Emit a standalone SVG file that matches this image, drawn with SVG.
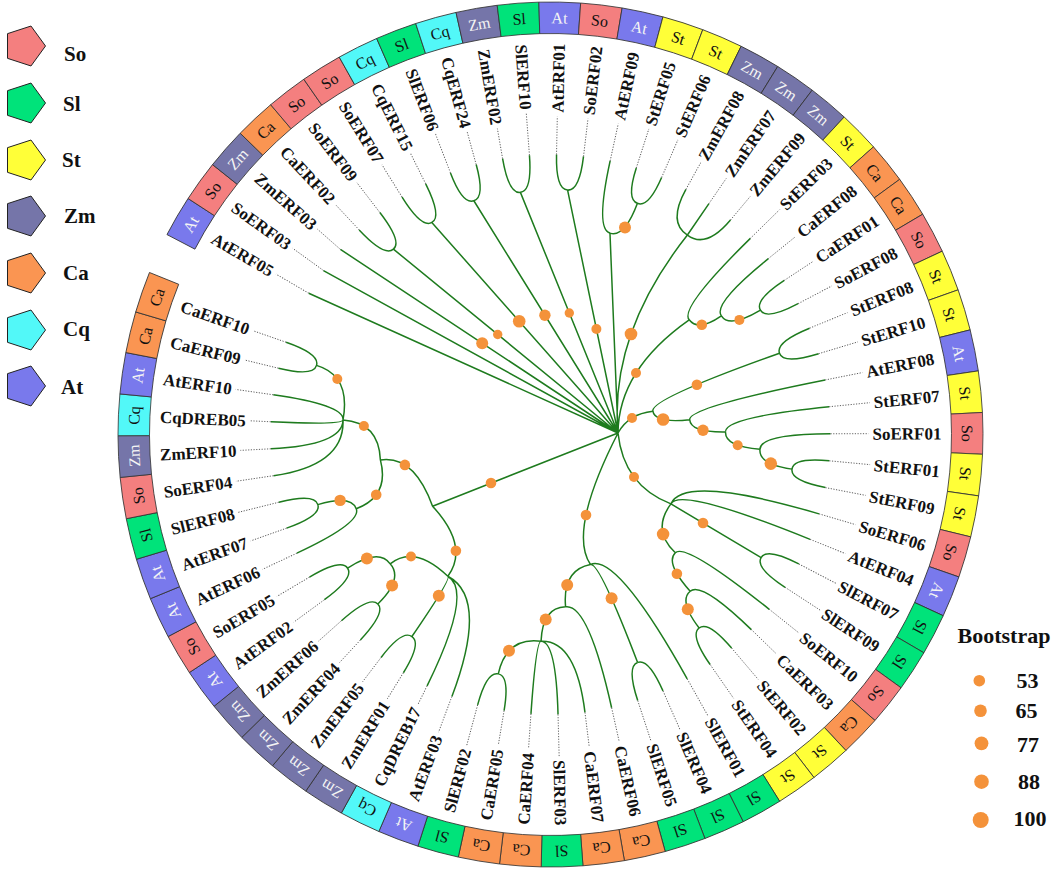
<svg xmlns="http://www.w3.org/2000/svg" width="1052" height="870" viewBox="0 0 1052 870">
<style>
.e{fill:none;stroke:#1e7b1e;stroke-width:1.5}
.bs{fill:#F4923A}
.ld{stroke:#555;stroke-width:0.9;stroke-dasharray:1.2 1.5}
.lb{font-family:"Liberation Serif","Times New Roman",serif;font-weight:bold;font-size:17px;fill:#111}
.r{text-anchor:end}
.bt{font-family:"Liberation Serif","Times New Roman",serif;font-size:16px;text-anchor:middle;fill:#111}
.w{fill:#f4f4f4}
.bx{stroke:#333;stroke-width:0.8}
.So{fill:#F47F7F}.Sl{fill:#00E37A}.St{fill:#FFFF38}.Zm{fill:#7575A9}.Ca{fill:#FA9552}.Cq{fill:#52F8F8}.At{fill:#7979EC}
.lg{font-family:"Liberation Serif","Times New Roman",serif;font-weight:bold;font-size:21px;fill:#111}
.bn{font-family:"Liberation Serif","Times New Roman",serif;font-weight:bold;font-size:22px;fill:#111;text-anchor:middle}
</style>
<defs>
<path id="box" class="bx" d="M400.53,-19.37 L432,-20.89 A432.5,432.5 0 0 1 432,20.89 L400.53,19.37 A401,401 0 0 0 400.53,-19.37 Z"/>
<polygon id="pent" points="21,0 6.49,19.97 -16.99,12.34 -16.99,-12.34 6.49,-19.97" stroke="#222" stroke-width="1"/>
</defs>
<rect width="1052" height="870" fill="#fff"/>

<g id="connectors">
<path id="e-root" class="e" d="M618,433L308.75,293.24M618,433L323.48,270.59M618,433L340.42,249.39M618,433L393.4,249.12M618,433L431.82,222.46M618,433L473.85,200.75M618,433L520.41,192.35M618,433L567.6,190.09M618,433L609.97,233.09M618,433Q609.3,334 687.42,235.03M618,433Q618.4,369.6 689.19,319.77M618,433Q628.55,413.88 652.89,411.24M618,433Q623.53,485.54 670.93,503.92M618,433Q567.75,531.25 590.49,564.49M618,433L432.58,506.19"/>
<path id="e-N4" class="e" d="M393.4,249.12Q384.46,257.06 359.18,230.04M393.4,249.12Q402.42,241.83 379.87,212.49"/>
<path id="e-N5" class="e" d="M431.82,222.46Q421.68,228.46 402.07,197.09M431.82,222.46Q442.19,216.96 425.7,183.84"/>
<path id="e-N6" class="e" d="M473.85,200.75Q462.63,204.74 450.48,172.98M473.85,200.75Q485.21,197.33 476.19,164.55"/>
<path id="e-N7" class="e" d="M520.41,192.35Q508.75,194.09 502.59,158.62M520.41,192.35Q532.15,191.18 529.44,155.28"/>
<path id="e-N8" class="e" d="M567.6,190.09Q555.77,189.55 556.52,154.56M567.6,190.09Q579.38,191.21 583.51,156.46"/>
<path id="e-N9" class="e" d="M609.97,233.09Q595.23,229.33 610.14,160.94M609.97,233.09Q624.42,237.94 637.44,203.31M637.44,203.31Q626.18,199.38 636.29,167.97M637.44,203.31Q648.51,207.78 661.6,177.49"/>
<path id="e-Z" class="e" d="M687.42,235.03Q667.53,222.68 685.91,189.42M687.42,235.03L708.92,203.64M687.42,235.03Q706.05,249.13 730.48,220.02"/>
<path id="e-D" class="e" d="M689.19,319.77Q678.98,308.43 750.36,238.39M689.19,319.77Q698.37,331.85 721.37,315.88M721.37,315.88Q712.37,303.85 768.4,258.63M721.37,315.88Q729.5,328.54 760.49,310.21M760.49,310.21Q754.21,300.2 784.27,280.39M760.49,310.21Q766.25,320.5 798.08,303.68"/>
<path id="e-G" class="e" d="M652.89,411.24Q649.45,399.38 779.5,353.22M652.89,411.24Q654.92,423.45 689.72,419.77M779.5,353.22Q775.33,342.26 809.56,328.21M779.5,353.22Q783.17,364.39 818.6,353.72M689.72,419.77Q687.83,407.24 825.15,379.98M689.72,419.77Q690.48,432.42 725.48,431.9M725.48,431.9Q724.64,417.16 829.13,406.75M725.48,431.9Q725.07,446.71 759.99,449.15M759.99,449.15Q760.5,433.95 830.5,433.77M759.99,449.15Q758.37,464.31 792.03,469.13M792.03,469.13Q793.43,457.41 829.27,460.79M792.03,469.13Q790.08,480.76 825.43,487.59"/>
<path id="e-N1" class="e" d="M670.93,503.92Q683.8,473.89 819.02,513.85M670.93,503.92Q679.38,486.57 810.12,539.39M670.93,503.92L761.15,557.64M670.93,503.92Q651.38,530.13 675.33,552.83M761.15,557.64Q766.86,547.3 798.78,563.94M761.15,557.64Q754.95,567.7 785.11,587.35M675.33,552.83Q684.87,541.88 769.24,609.3M675.33,552.83Q664.92,562.92 690.2,591.29M690.2,591.29Q701.13,580.83 751.34,629.6M690.2,591.29Q678.44,601.03 699.15,627.99M699.15,627.99Q708.32,620.6 731.6,648.06M699.15,627.99Q689.61,634.97 710.13,664.55"/>
<path id="e-Q0" class="e" d="M590.49,564.49Q616.9,553.19 687.2,678.86M590.49,564.49Q599.06,561.54 637.62,662.42M590.49,564.49Q562.35,569.98 565.58,606.84M637.62,662.42Q648.52,657.95 662.98,690.92M637.62,662.42Q626.51,666.35 637.72,700.56M565.58,606.84Q588.26,603.33 611.62,707.75M565.58,606.84Q542.59,607.32 541.04,641.28M541.04,641.28Q575.98,639.93 584.97,712.37M541.04,641.28Q556.07,641.42 558.03,714.39M541.04,641.28Q536.05,641 530.96,713.83M541.04,641.28Q506.37,636.74 498.27,673.87M498.27,673.87Q509.9,676.12 504.1,710.64M498.27,673.87Q486.75,671.07 477.64,704.87"/>
<path id="e-T0" class="e" d="M432.58,506.19Q469.58,546.29 447.89,576.26M432.58,506.19Q414.02,454.9 380.39,459.92M447.89,576.26Q488.88,598.3 451.91,696.58M447.89,576.26Q473.37,591.6 427.1,685.86M447.89,576.26Q451.5,578.8 411.9,636.52M447.89,576.26Q414.31,544.39 390.18,563.86M411.9,636.52Q421.8,642.97 403.42,672.75M411.9,636.52Q402.27,629.57 381.1,657.44M390.18,563.86Q403.51,578.83 377.83,604.05M390.18,563.86Q378.5,547.87 347.61,568.23M377.83,604.05Q386.18,612.15 360.38,640.05M377.83,604.05Q369.82,595.48 341.45,620.76M347.61,568.23Q354.3,577.9 324.43,599.73M347.61,568.23Q341.35,558.26 309.5,577.1"/>
<path id="e-T1" class="e" d="M380.39,459.92Q389.84,495.91 356.21,508.77M380.39,459.92Q378.92,422.5 343.01,419.99M356.21,508.77Q362.11,522.67 296.9,553.19M356.21,508.77Q351.35,494.52 317.84,504.62M317.84,504.62Q321.5,515.78 286.63,528.16M317.84,504.62Q314.72,493.28 278.82,502.23M343.01,419.99Q344.77,465.12 273.55,475.72M343.01,419.99Q342.77,445.13 270.86,448.81M343.01,419.99Q342.71,425.04 270.78,421.76M343.01,419.99Q344.6,405.01 273.33,394.8M343.01,419.99Q351.02,375.57 316.5,365.37M316.5,365.37Q313.43,376.74 278.45,368.22M316.5,365.37Q320.11,354.13 286.12,342.27"/>
</g>

<g id="bootstrap-dots" class="bs">
<circle cx="482.2" cy="343.2" r="6"/><circle cx="497.7" cy="334.5" r="4.7"/><circle cx="519.2" cy="321.3" r="6.3"/><circle cx="544.9" cy="315.3" r="5.7"/><circle cx="569.3" cy="313" r="4.7"/><circle cx="596.4" cy="329" r="5"/><circle cx="625" cy="227.5" r="6"/><circle cx="631" cy="334" r="6.3"/><circle cx="636" cy="373" r="5"/><circle cx="632" cy="418" r="5"/><circle cx="696.9" cy="384.7" r="5.3"/><circle cx="663.1" cy="419.5" r="6.3"/><circle cx="703" cy="430.2" r="5.7"/><circle cx="737.7" cy="445.2" r="5"/><circle cx="770.8" cy="463.6" r="6.3"/><circle cx="701.8" cy="324.8" r="5.3"/><circle cx="739.4" cy="319.9" r="5"/>
<circle cx="634" cy="477" r="5"/><circle cx="703" cy="523" r="5.3"/><circle cx="663.1" cy="534.1" r="6.3"/><circle cx="676.9" cy="573.7" r="5.3"/><circle cx="687.8" cy="609.2" r="6"/><circle cx="586" cy="515" r="5.3"/><circle cx="611.6" cy="598.3" r="6"/><circle cx="567.2" cy="584.9" r="6"/><circle cx="545.7" cy="619.5" r="6"/><circle cx="509" cy="650.8" r="6"/>
<circle cx="491" cy="483" r="5.3"/><circle cx="404.9" cy="464.9" r="5.3"/><circle cx="455.9" cy="550.7" r="5.3"/><circle cx="411" cy="556.5" r="5"/><circle cx="438.8" cy="595.8" r="6"/><circle cx="366.9" cy="558.4" r="6"/><circle cx="392.1" cy="585.5" r="6"/><circle cx="363.9" cy="426" r="5"/><circle cx="337.3" cy="379" r="5"/><circle cx="376.2" cy="494.8" r="5.3"/><circle cx="340.1" cy="500.4" r="5.7"/>
</g>

<g id="leaves">
<g id="AtERF05" transform="translate(550.5 434.5) rotate(210.3)"><use href="#box" class="At"/><text class="bt w" transform="translate(416.75 0) rotate(90)" y="5.5">At</text><line class="ld" x1="280" x2="318"/><text class="lb" transform="rotate(180)" x="-391" y="6">AtERF05</text></g>
<g id="SoERF03" transform="translate(550.5 434.5) rotate(215.84)"><use href="#box" class="So"/><text class="bt" transform="translate(416.75 0) rotate(90)" y="5.5">So</text><line class="ld" x1="280" x2="318"/><text class="lb" transform="rotate(180)" x="-391" y="6">SoERF03</text></g>
<g id="ZmERF03" transform="translate(550.5 434.5) rotate(221.38)"><use href="#box" class="Zm"/><text class="bt w" transform="translate(416.75 0) rotate(90)" y="5.5">Zm</text><line class="ld" x1="280" x2="310.5"/><text class="lb" transform="rotate(180)" x="-391" y="6">ZmERF03</text></g>
<g id="CaERF02" transform="translate(550.5 434.5) rotate(226.92)"><use href="#box" class="Ca"/><text class="bt" transform="translate(416.75 0) rotate(90)" y="5.5">Ca</text><line class="ld" x1="280" x2="315"/><text class="lb" transform="rotate(180)" x="-391" y="6">CaERF02</text></g>
<g id="SoERF09" transform="translate(550.5 434.5) rotate(232.45)"><use href="#box" class="So"/><text class="bt" transform="translate(416.75 0) rotate(90)" y="5.5">So</text><line class="ld" x1="280" x2="318"/><text class="lb" transform="rotate(180)" x="-391" y="6">SoERF09</text></g>
<g id="SoERF07" transform="translate(550.5 434.5) rotate(237.99)"><use href="#box" class="So"/><text class="bt" transform="translate(416.75 0) rotate(90)" y="5.5">So</text><line class="ld" x1="280" x2="318"/><text class="lb" transform="rotate(180)" x="-391" y="6">SoERF07</text></g>
<g id="CqERF15" transform="translate(550.5 434.5) rotate(243.53)"><use href="#box" class="Cq"/><text class="bt" transform="translate(416.75 0) rotate(90)" y="5.5">Cq</text><line class="ld" x1="280" x2="314"/><text class="lb" transform="rotate(180)" x="-391" y="6">CqERF15</text></g>
<g id="SlERF06" transform="translate(550.5 434.5) rotate(249.07)"><use href="#box" class="Sl"/><text class="bt" transform="translate(416.75 0) rotate(90)" y="5.5">Sl</text><line class="ld" x1="280" x2="322"/><text class="lb" transform="rotate(180)" x="-391" y="6">SlERF06</text></g>
<g id="CqERF24" transform="translate(550.5 434.5) rotate(254.61)"><use href="#box" class="Cq"/><text class="bt" transform="translate(416.75 0) rotate(90)" y="5.5">Cq</text><line class="ld" x1="280" x2="314"/><text class="lb" transform="rotate(180)" x="-391" y="6">CqERF24</text></g>
<g id="ZmERF02" transform="translate(550.5 434.5) rotate(260.15)"><use href="#box" class="Zm"/><text class="bt w" transform="translate(416.75 0) rotate(90)" y="5.5">Zm</text><line class="ld" x1="280" x2="310.5"/><text class="lb" transform="rotate(180)" x="-391" y="6">ZmERF02</text></g>
<g id="SlERF10" transform="translate(550.5 434.5) rotate(265.69)"><use href="#box" class="Sl"/><text class="bt" transform="translate(416.75 0) rotate(90)" y="5.5">Sl</text><line class="ld" x1="280" x2="322"/><text class="lb" transform="rotate(180)" x="-391" y="6">SlERF10</text></g>
<g id="AtERF01" transform="translate(550.5 434.5) rotate(271.23)"><use href="#box" class="At"/><text class="bt w" transform="translate(416.75 0) rotate(90)" y="5.5">At</text><line class="ld" x1="280" x2="318"/><text class="lb r" x="391" y="6">AtERF01</text></g>
<g id="SoERF02" transform="translate(550.5 434.5) rotate(276.77)"><use href="#box" class="So"/><text class="bt" transform="translate(416.75 0) rotate(90)" y="5.5">So</text><line class="ld" x1="280" x2="318"/><text class="lb r" x="391" y="6">SoERF02</text></g>
<g id="AtERF09" transform="translate(550.5 434.5) rotate(282.3)"><use href="#box" class="At"/><text class="bt w" transform="translate(416.75 0) rotate(90)" y="5.5">At</text><line class="ld" x1="280" x2="318"/><text class="lb r" x="391" y="6">AtERF09</text></g>
<g id="StERF05" transform="translate(550.5 434.5) rotate(287.84)"><use href="#box" class="St"/><text class="bt" transform="translate(416.75 0) rotate(90)" y="5.5">St</text><line class="ld" x1="280" x2="321"/><text class="lb r" x="391" y="6">StERF05</text></g>
<g id="StERF06" transform="translate(550.5 434.5) rotate(293.38)"><use href="#box" class="St"/><text class="bt" transform="translate(416.75 0) rotate(90)" y="5.5">St</text><line class="ld" x1="280" x2="321"/><text class="lb r" x="391" y="6">StERF06</text></g>
<g id="ZmERF08" transform="translate(550.5 434.5) rotate(298.92)"><use href="#box" class="Zm"/><text class="bt w" transform="translate(416.75 0) rotate(90)" y="5.5">Zm</text><line class="ld" x1="280" x2="310.5"/><text class="lb r" x="391" y="6">ZmERF08</text></g>
<g id="ZmERF07" transform="translate(550.5 434.5) rotate(304.46)"><use href="#box" class="Zm"/><text class="bt w" transform="translate(416.75 0) rotate(90)" y="5.5">Zm</text><line class="ld" x1="280" x2="310.5"/><text class="lb r" x="391" y="6">ZmERF07</text></g>
<g id="ZmERF09" transform="translate(550.5 434.5) rotate(310)"><use href="#box" class="Zm"/><text class="bt w" transform="translate(416.75 0) rotate(90)" y="5.5">Zm</text><line class="ld" x1="280" x2="310.5"/><text class="lb r" x="391" y="6">ZmERF09</text></g>
<g id="StERF03" transform="translate(550.5 434.5) rotate(315.54)"><use href="#box" class="St"/><text class="bt" transform="translate(416.75 0) rotate(90)" y="5.5">St</text><line class="ld" x1="280" x2="321"/><text class="lb r" x="391" y="6">StERF03</text></g>
<g id="CaERF08" transform="translate(550.5 434.5) rotate(321.08)"><use href="#box" class="Ca"/><text class="bt" transform="translate(416.75 0) rotate(90)" y="5.5">Ca</text><line class="ld" x1="280" x2="315"/><text class="lb r" x="391" y="6">CaERF08</text></g>
<g id="CaERF01" transform="translate(550.5 434.5) rotate(326.61)"><use href="#box" class="Ca"/><text class="bt" transform="translate(416.75 0) rotate(90)" y="5.5">Ca</text><line class="ld" x1="280" x2="315"/><text class="lb r" x="391" y="6">CaERF01</text></g>
<g id="SoERF08" transform="translate(550.5 434.5) rotate(332.15)"><use href="#box" class="So"/><text class="bt" transform="translate(416.75 0) rotate(90)" y="5.5">So</text><line class="ld" x1="280" x2="318"/><text class="lb r" x="391" y="6">SoERF08</text></g>
<g id="StERF08" transform="translate(550.5 434.5) rotate(337.69)"><use href="#box" class="St"/><text class="bt" transform="translate(416.75 0) rotate(90)" y="5.5">St</text><line class="ld" x1="280" x2="321"/><text class="lb r" x="391" y="6">StERF08</text></g>
<g id="StERF10" transform="translate(550.5 434.5) rotate(343.23)"><use href="#box" class="St"/><text class="bt" transform="translate(416.75 0) rotate(90)" y="5.5">St</text><line class="ld" x1="280" x2="321"/><text class="lb r" x="391" y="6">StERF10</text></g>
<g id="AtERF08" transform="translate(550.5 434.5) rotate(348.77)"><use href="#box" class="At"/><text class="bt w" transform="translate(416.75 0) rotate(90)" y="5.5">At</text><line class="ld" x1="280" x2="318"/><text class="lb r" x="391" y="6">AtERF08</text></g>
<g id="StERF07" transform="translate(550.5 434.5) rotate(354.31)"><use href="#box" class="St"/><text class="bt" transform="translate(416.75 0) rotate(90)" y="5.5">St</text><line class="ld" x1="280" x2="321"/><text class="lb r" x="391" y="6">StERF07</text></g>
<g id="SoERF01" transform="translate(550.5 434.5) rotate(359.85)"><use href="#box" class="So"/><text class="bt" transform="translate(416.75 0) rotate(90)" y="5.5">So</text><line class="ld" x1="280" x2="318"/><text class="lb r" x="391" y="6">SoERF01</text></g>
<g id="StERF01" transform="translate(550.5 434.5) rotate(5.39)"><use href="#box" class="St"/><text class="bt" transform="translate(416.75 0) rotate(90)" y="5.5">St</text><line class="ld" x1="280" x2="321"/><text class="lb r" x="391" y="6">StERF01</text></g>
<g id="StERF09" transform="translate(550.5 434.5) rotate(10.93)"><use href="#box" class="St"/><text class="bt" transform="translate(416.75 0) rotate(90)" y="5.5">St</text><line class="ld" x1="280" x2="321"/><text class="lb r" x="391" y="6">StERF09</text></g>
<g id="SoERF06" transform="translate(550.5 434.5) rotate(16.46)"><use href="#box" class="So"/><text class="bt" transform="translate(416.75 0) rotate(90)" y="5.5">So</text><line class="ld" x1="280" x2="318"/><text class="lb r" x="391" y="6">SoERF06</text></g>
<g id="AtERF04" transform="translate(550.5 434.5) rotate(22)"><use href="#box" class="At"/><text class="bt w" transform="translate(416.75 0) rotate(90)" y="5.5">At</text><line class="ld" x1="280" x2="318"/><text class="lb r" x="391" y="6">AtERF04</text></g>
<g id="SlERF07" transform="translate(550.5 434.5) rotate(27.54)"><use href="#box" class="Sl"/><text class="bt" transform="translate(416.75 0) rotate(90)" y="5.5">Sl</text><line class="ld" x1="280" x2="322"/><text class="lb r" x="391" y="6">SlERF07</text></g>
<g id="SlERF09" transform="translate(550.5 434.5) rotate(33.08)"><use href="#box" class="Sl"/><text class="bt" transform="translate(416.75 0) rotate(90)" y="5.5">Sl</text><line class="ld" x1="280" x2="322"/><text class="lb r" x="391" y="6">SlERF09</text></g>
<g id="SoERF10" transform="translate(550.5 434.5) rotate(38.62)"><use href="#box" class="So"/><text class="bt" transform="translate(416.75 0) rotate(90)" y="5.5">So</text><line class="ld" x1="280" x2="318"/><text class="lb r" x="391" y="6">SoERF10</text></g>
<g id="CaERF03" transform="translate(550.5 434.5) rotate(44.16)"><use href="#box" class="Ca"/><text class="bt" transform="translate(416.75 0) rotate(90)" y="5.5">Ca</text><line class="ld" x1="280" x2="315"/><text class="lb r" x="391" y="6">CaERF03</text></g>
<g id="StERF02" transform="translate(550.5 434.5) rotate(49.7)"><use href="#box" class="St"/><text class="bt" transform="translate(416.75 0) rotate(90)" y="5.5">St</text><line class="ld" x1="280" x2="321"/><text class="lb r" x="391" y="6">StERF02</text></g>
<g id="StERF04" transform="translate(550.5 434.5) rotate(55.24)"><use href="#box" class="St"/><text class="bt" transform="translate(416.75 0) rotate(90)" y="5.5">St</text><line class="ld" x1="280" x2="321"/><text class="lb r" x="391" y="6">StERF04</text></g>
<g id="SlERF01" transform="translate(550.5 434.5) rotate(60.77)"><use href="#box" class="Sl"/><text class="bt" transform="translate(416.75 0) rotate(90)" y="5.5">Sl</text><line class="ld" x1="280" x2="322"/><text class="lb r" x="391" y="6">SlERF01</text></g>
<g id="SlERF04" transform="translate(550.5 434.5) rotate(66.31)"><use href="#box" class="Sl"/><text class="bt" transform="translate(416.75 0) rotate(90)" y="5.5">Sl</text><line class="ld" x1="280" x2="322"/><text class="lb r" x="391" y="6">SlERF04</text></g>
<g id="SlERF05" transform="translate(550.5 434.5) rotate(71.85)"><use href="#box" class="Sl"/><text class="bt" transform="translate(416.75 0) rotate(90)" y="5.5">Sl</text><line class="ld" x1="280" x2="322"/><text class="lb r" x="391" y="6">SlERF05</text></g>
<g id="CaERF06" transform="translate(550.5 434.5) rotate(77.39)"><use href="#box" class="Ca"/><text class="bt" transform="translate(416.75 0) rotate(90)" y="5.5">Ca</text><line class="ld" x1="280" x2="315"/><text class="lb r" x="391" y="6">CaERF06</text></g>
<g id="CaERF07" transform="translate(550.5 434.5) rotate(82.93)"><use href="#box" class="Ca"/><text class="bt" transform="translate(416.75 0) rotate(90)" y="5.5">Ca</text><line class="ld" x1="280" x2="315"/><text class="lb r" x="391" y="6">CaERF07</text></g>
<g id="SlERF03" transform="translate(550.5 434.5) rotate(88.46)"><use href="#box" class="Sl"/><text class="bt" transform="translate(416.75 0) rotate(90)" y="5.5">Sl</text><line class="ld" x1="280" x2="322"/><text class="lb r" x="391" y="6">SlERF03</text></g>
<g id="CaERF04" transform="translate(550.5 434.5) rotate(94)"><use href="#box" class="Ca"/><text class="bt" transform="translate(416.75 0) rotate(90)" y="5.5">Ca</text><line class="ld" x1="280" x2="315"/><text class="lb" transform="rotate(180)" x="-391" y="6">CaERF04</text></g>
<g id="CaERF05" transform="translate(550.5 434.5) rotate(99.54)"><use href="#box" class="Ca"/><text class="bt" transform="translate(416.75 0) rotate(90)" y="5.5">Ca</text><line class="ld" x1="280" x2="315"/><text class="lb" transform="rotate(180)" x="-391" y="6">CaERF05</text></g>
<g id="SlERF02" transform="translate(550.5 434.5) rotate(105.08)"><use href="#box" class="Sl"/><text class="bt" transform="translate(416.75 0) rotate(90)" y="5.5">Sl</text><line class="ld" x1="280" x2="322"/><text class="lb" transform="rotate(180)" x="-391" y="6">SlERF02</text></g>
<g id="AtERF03" transform="translate(550.5 434.5) rotate(110.62)"><use href="#box" class="At"/><text class="bt w" transform="translate(416.75 0) rotate(90)" y="5.5">At</text><line class="ld" x1="280" x2="318"/><text class="lb" transform="rotate(180)" x="-391" y="6">AtERF03</text></g>
<g id="CqDREB17" transform="translate(550.5 434.5) rotate(116.15)"><use href="#box" class="Cq"/><text class="bt" transform="translate(416.75 0) rotate(90)" y="5.5">Cq</text><line class="ld" x1="280" x2="301"/><text class="lb" transform="rotate(180)" x="-391" y="6">CqDREB17</text></g>
<g id="ZmERF01" transform="translate(550.5 434.5) rotate(121.69)"><use href="#box" class="Zm"/><text class="bt w" transform="translate(416.75 0) rotate(90)" y="5.5">Zm</text><line class="ld" x1="280" x2="310.5"/><text class="lb" transform="rotate(180)" x="-391" y="6">ZmERF01</text></g>
<g id="ZmERF05" transform="translate(550.5 434.5) rotate(127.23)"><use href="#box" class="Zm"/><text class="bt w" transform="translate(416.75 0) rotate(90)" y="5.5">Zm</text><line class="ld" x1="280" x2="310.5"/><text class="lb" transform="rotate(180)" x="-391" y="6">ZmERF05</text></g>
<g id="ZmERF04" transform="translate(550.5 434.5) rotate(132.77)"><use href="#box" class="Zm"/><text class="bt w" transform="translate(416.75 0) rotate(90)" y="5.5">Zm</text><line class="ld" x1="280" x2="310.5"/><text class="lb" transform="rotate(180)" x="-391" y="6">ZmERF04</text></g>
<g id="ZmERF06" transform="translate(550.5 434.5) rotate(138.31)"><use href="#box" class="Zm"/><text class="bt w" transform="translate(416.75 0) rotate(90)" y="5.5">Zm</text><line class="ld" x1="280" x2="310.5"/><text class="lb" transform="rotate(180)" x="-391" y="6">ZmERF06</text></g>
<g id="AtERF02" transform="translate(550.5 434.5) rotate(143.84)"><use href="#box" class="At"/><text class="bt w" transform="translate(416.75 0) rotate(90)" y="5.5">At</text><line class="ld" x1="280" x2="318"/><text class="lb" transform="rotate(180)" x="-391" y="6">AtERF02</text></g>
<g id="SoERF05" transform="translate(550.5 434.5) rotate(149.38)"><use href="#box" class="So"/><text class="bt" transform="translate(416.75 0) rotate(90)" y="5.5">So</text><line class="ld" x1="280" x2="318"/><text class="lb" transform="rotate(180)" x="-391" y="6">SoERF05</text></g>
<g id="AtERF06" transform="translate(550.5 434.5) rotate(154.92)"><use href="#box" class="At"/><text class="bt w" transform="translate(416.75 0) rotate(90)" y="5.5">At</text><line class="ld" x1="280" x2="318"/><text class="lb" transform="rotate(180)" x="-391" y="6">AtERF06</text></g>
<g id="AtERF07" transform="translate(550.5 434.5) rotate(160.46)"><use href="#box" class="At"/><text class="bt w" transform="translate(416.75 0) rotate(90)" y="5.5">At</text><line class="ld" x1="280" x2="318"/><text class="lb" transform="rotate(180)" x="-391" y="6">AtERF07</text></g>
<g id="SlERF08" transform="translate(550.5 434.5) rotate(166)"><use href="#box" class="Sl"/><text class="bt" transform="translate(416.75 0) rotate(90)" y="5.5">Sl</text><line class="ld" x1="280" x2="322"/><text class="lb" transform="rotate(180)" x="-391" y="6">SlERF08</text></g>
<g id="SoERF04" transform="translate(550.5 434.5) rotate(171.54)"><use href="#box" class="So"/><text class="bt" transform="translate(416.75 0) rotate(90)" y="5.5">So</text><line class="ld" x1="280" x2="318"/><text class="lb" transform="rotate(180)" x="-391" y="6">SoERF04</text></g>
<g id="ZmERF10" transform="translate(550.5 434.5) rotate(177.07)"><use href="#box" class="Zm"/><text class="bt w" transform="translate(416.75 0) rotate(90)" y="5.5">Zm</text><line class="ld" x1="280" x2="310.5"/><text class="lb" transform="rotate(180)" x="-391" y="6">ZmERF10</text></g>
<g id="CqDREB05" transform="translate(550.5 434.5) rotate(182.61)"><use href="#box" class="Cq"/><text class="bt" transform="translate(416.75 0) rotate(90)" y="5.5">Cq</text><line class="ld" x1="280" x2="301"/><text class="lb" transform="rotate(180)" x="-391" y="6">CqDREB05</text></g>
<g id="AtERF10" transform="translate(550.5 434.5) rotate(188.15)"><use href="#box" class="At"/><text class="bt w" transform="translate(416.75 0) rotate(90)" y="5.5">At</text><line class="ld" x1="280" x2="318"/><text class="lb" transform="rotate(180)" x="-391" y="6">AtERF10</text></g>
<g id="CaERF09" transform="translate(550.5 434.5) rotate(193.69)"><use href="#box" class="Ca"/><text class="bt" transform="translate(416.75 0) rotate(90)" y="5.5">Ca</text><line class="ld" x1="280" x2="315"/><text class="lb" transform="rotate(180)" x="-391" y="6">CaERF09</text></g>
<g id="CaERF10" transform="translate(550.5 434.5) rotate(199.23)"><use href="#box" class="Ca"/><text class="bt" transform="translate(416.75 0) rotate(90)" y="5.5">Ca</text><line class="ld" x1="280" x2="315"/><text class="lb" transform="rotate(180)" x="-391" y="6">CaERF10</text></g>
</g>

<g id="legend-species">
<use href="#pent" class="So" transform="translate(24.5 46)"/><text class="lg" x="64" y="61">So</text>
<use href="#pent" class="Sl" transform="translate(24.5 103)"/><text class="lg" x="63" y="111">Sl</text>
<use href="#pent" class="St" transform="translate(24.5 160)"/><text class="lg" x="62" y="167">St</text>
<use href="#pent" class="Zm" transform="translate(24.5 216)"/><text class="lg" x="64" y="223">Zm</text>
<use href="#pent" class="Ca" transform="translate(24.5 273)"/><text class="lg" x="63" y="280">Ca</text>
<use href="#pent" class="Cq" transform="translate(24.5 330)"/><text class="lg" x="63" y="336">Cq</text>
<use href="#pent" class="At" transform="translate(24.5 386)"/><text class="lg" x="61" y="394">At</text>
</g>

<g id="legend-bootstrap">
<text class="bn" x="1004" y="643">Bootstrap</text>
<circle class="bs" cx="979.3" cy="680.7" r="5.8"/><text class="bn" x="1027.5" y="688">53</text>
<circle class="bs" cx="980.5" cy="710.7" r="6.3"/><text class="bn" x="1026.5" y="718">65</text>
<circle class="bs" cx="981.5" cy="743.3" r="6.9"/><text class="bn" x="1028" y="751.5">77</text>
<circle class="bs" cx="981.5" cy="781.7" r="7.3"/><text class="bn" x="1029" y="789">88</text>
<circle class="bs" cx="980.7" cy="820" r="8"/><text class="bn" x="1030" y="826">100</text>
</g>
</svg>
